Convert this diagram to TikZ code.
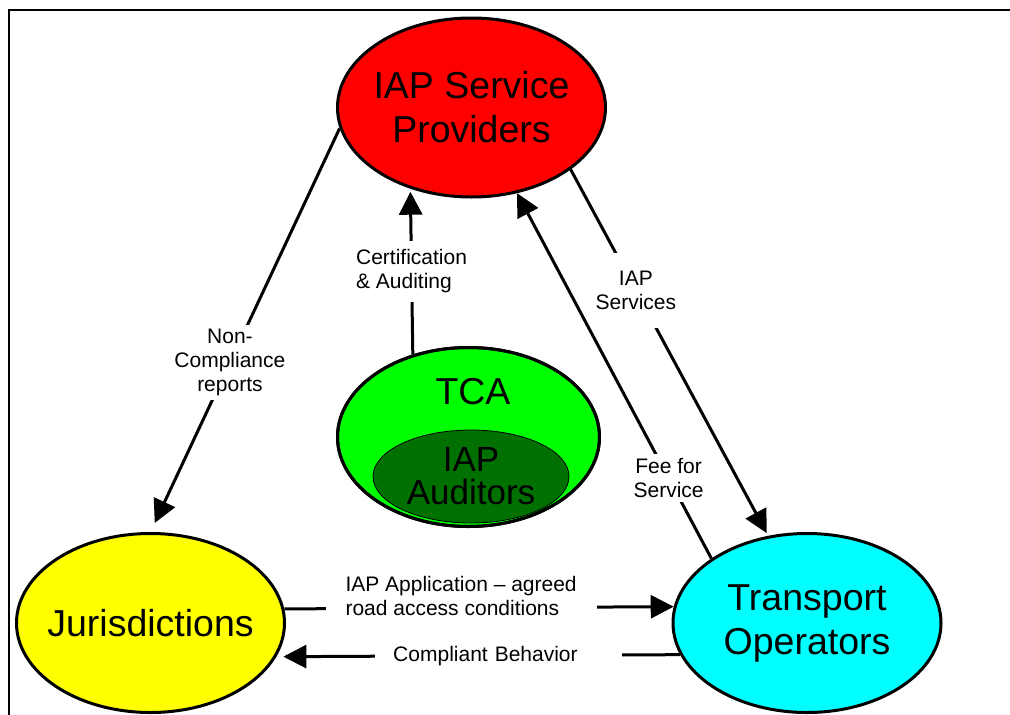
\documentclass[tikz,border=0pt]{standalone}
\usepackage{fontspec}
\setmainfont{Liberation Sans}
\usetikzlibrary{shapes.geometric,arrows.meta}
\definecolor{dkgreen}{RGB}{0,112,0}
\definecolor{aqua}{RGB}{0,255,255}
\definecolor{lime}{RGB}{0,255,0}
\definecolor{ylw}{RGB}{255,255,0}
\definecolor{rd}{RGB}{255,0,0}
\begin{document}
\begin{tikzpicture}[x=1pt,y=-1pt,
  bubble/.style={ellipse, draw=black, line width=3pt, inner xsep=-40pt, inner ysep=0pt, align=center,
    minimum width=268pt, minimum height=179pt, font=\fontsize{37.5}{44}\selectfont},
  conn/.style={line width=3pt},
  arr/.style={conn, -{Triangle[length=23pt,width=23pt]}},
  lbl/.style={fill=white, font=\fontsize{21}{24}\selectfont, inner xsep=4pt, inner ysep=4pt, align=center}
]
\useasboundingbox (0,0) rectangle (1010,715);
\draw[line width=2pt] (9,716) -- (9,10) -- (1011,10);

\node[bubble, fill=rd] (isp) at (471.5,107.5) {IAP Service\\Providers};
\node[bubble, fill=ylw] (jur) at (150.5,623) {Jurisdictions};
\node[bubble, fill=aqua] (trans) at (807,623) {Transport\\Operators};

\node[ellipse, fill=lime, draw=black, line width=3pt, inner sep=0pt, minimum width=262pt, minimum height=179pt] (tca) at (468.5,437) {};
\node[ellipse, draw=black, line width=0.8pt, fill=dkgreen, inner xsep=-40pt, inner ysep=0pt, minimum width=196pt, minimum height=93pt,
  align=center, font=\fontsize{35}{33}\selectfont] (aud) at (471,476.5) {IAP\\Auditors};
\draw[line width=3pt] (tca.center) ellipse [x radius=131pt, y radius=89.5pt];
\node[font=\fontsize{37.5}{44}\selectfont, inner sep=0pt] (tcat) at (473,391.5) {TCA};

\draw[arr, shorten >=10pt] (isp.189.7) -- (jur.north)
  node[lbl, pos=0.58] (ncr) {Non-\\Compliance\\reports};
\draw[arr, shorten >=3pt] (tca.124.8) -- (isp.233.8)
  node[lbl, pos=0.5, align=left, inner ysep=9pt] (cert) {Certification\\\& Auditing};
\draw[arr, shorten >=3pt] (isp.328.4) -- (trans.114)
  node[lbl, pos=0.33, inner ysep=18pt] (svc) {IAP\\Services};
\draw[arr] (trans.146.6) -- (isp.298.5)
  node[lbl, pos=0.22] (fee) {Fee for\\Service};
\draw[arr] (jur.6.7) -- (trans.173.3)
  node[lbl, pos=0.454, yshift=12pt, align=left, inner xsep=20pt] (app) {IAP Application – agreed\\road access conditions};
\draw[arr, shorten >=7pt] (trans.194.3) -- (jur.345.7)
  node[lbl, pos=0.449, text width=211pt, align=left, inner xsep=18pt] (comp) {Compliant Behavior};
\end{tikzpicture}
\end{document}
